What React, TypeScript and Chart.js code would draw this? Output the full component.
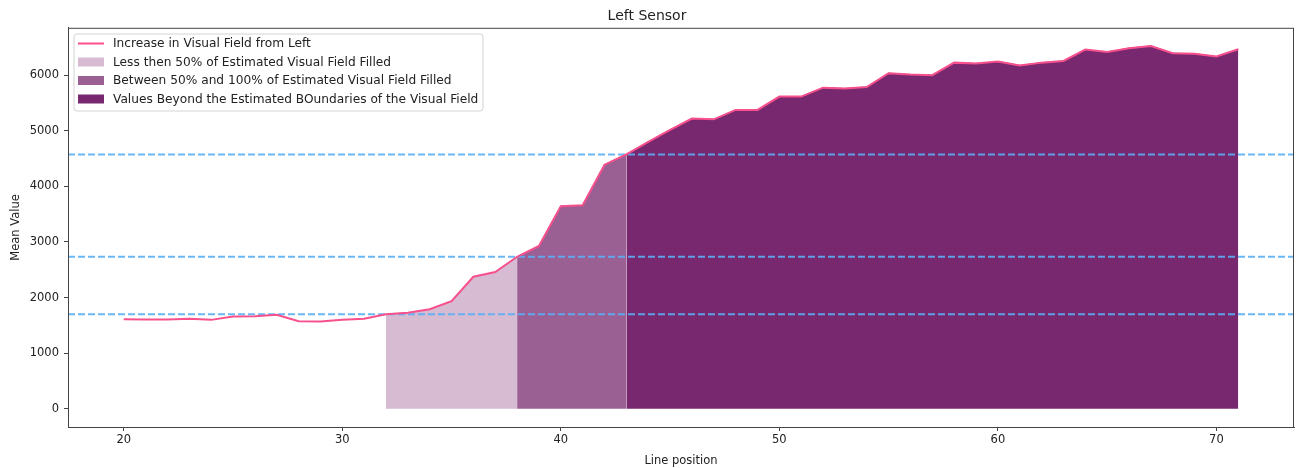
import React, { useEffect, useRef } from "react";
import Chart from "chart.js/auto";

const positions = [20, 21, 22, 23, 24, 25, 26, 27, 28, 29, 30, 31, 32, 33, 34, 35, 36, 37, 38, 39, 40, 41, 42, 43, 44, 45, 46, 47, 48, 49, 50, 51, 52, 53, 54, 55, 56, 57, 58, 59, 60, 61, 62, 63, 64, 65, 66, 67, 68, 69, 70, 71];
const meanValues = [1610, 1605, 1605, 1620, 1600, 1660, 1665, 1690, 1575, 1570, 1600, 1620, 1700, 1730, 1790, 1935, 2375, 2460, 2735, 2930, 3645, 3660, 4390, 4575, 4800, 5015, 5220, 5205, 5375, 5375, 5615, 5615, 5775, 5760, 5785, 6035, 6010, 6000, 6225, 6210, 6245, 6175, 6225, 6255, 6460, 6415, 6485, 6525, 6395, 6385, 6335, 6465];
const zoneStart = [32, 38, 43];
const zoneEnd = [38, 43, 71];
const thresholds = [1700, 2735, 4575];
const legendLabels = [
  "Increase in Visual Field from Left",
  "Less then 50% of Estimated Visual Field Filled",
  "Between 50% and 100% of Estimated Visual Field Filled",
  "Values Beyond the Estimated BOundaries of the Visual Field",
];
const xTicks = [20, 30, 40, 50, 60, 70];
const yTicks = [0, 1000, 2000, 3000, 4000, 5000, 6000];

const LINE_COLOR = "#f7508d";
const ZONE_COLORS = ["#d6bbd3", "#9a5f93", "#78286e"];
const HLINE_COLOR = "rgba(90,175,245,0.9)";
const FONT = "'DejaVu Sans', sans-serif";
const TEXT = "#222";
const SPINE = "#444";

export default function App() {
  const ref = useRef<HTMLCanvasElement | null>(null);
  useEffect(() => {
    if (!ref.current) return;
    const xmin = 20 - 0.05 * 51;
    const xmax = 71 + 0.05 * 51;
    const dmax = Math.max(...meanValues);
    const ymin = -0.05 * dmax;
    const ymax = dmax * 1.05;

    const pts = positions.map((x, i) => ({ x, y: meanValues[i] }));
    const zoneSets = zoneStart.map((s, k) => ({
      type: "line" as const,
      label: legendLabels[k + 1],
      data: pts.filter((p) => p.x >= s && p.x <= zoneEnd[k]),
      borderColor: ZONE_COLORS[k],
      backgroundColor: ZONE_COLORS[k],
      borderWidth: 1,
      pointRadius: 0,
      fill: "origin",
      tension: 0,
      order: 3,
    }));
    const hSets = thresholds.map((t) => ({
      type: "line" as const,
      label: "",
      data: [
        { x: xmin, y: t },
        { x: xmax, y: t },
      ],
      borderColor: HLINE_COLOR,
      borderWidth: 2,
      borderDash: [7, 3],
      pointRadius: 0,
      fill: false,
      order: 1,
    }));

    const frame = {
      id: "frame",
      afterDraw(chart: any) {
        const { ctx, chartArea } = chart;
        const { left, right, top, bottom } = chartArea;
        ctx.save();
        ctx.strokeStyle = SPINE;
        ctx.lineWidth = 1;
        ctx.strokeRect(left + 0.5, top + 0.5, right - left - 1, bottom - top);
        // legend
        const bx = 74, by = 34, bw = 409, bh = 77, r = 3;
        ctx.beginPath();
        ctx.moveTo(bx + r, by);
        ctx.lineTo(bx + bw - r, by);
        ctx.quadraticCurveTo(bx + bw, by, bx + bw, by + r);
        ctx.lineTo(bx + bw, by + bh - r);
        ctx.quadraticCurveTo(bx + bw, by + bh, bx + bw - r, by + bh);
        ctx.lineTo(bx + r, by + bh);
        ctx.quadraticCurveTo(bx, by + bh, bx, by + bh - r);
        ctx.lineTo(bx, by + r);
        ctx.quadraticCurveTo(bx, by, bx + r, by);
        ctx.closePath();
        ctx.fillStyle = "rgba(255,255,255,0.8)";
        ctx.fill();
        ctx.strokeStyle = "#d4d4d4";
        ctx.stroke();
        const rows = [43.5, 62, 80.5, 99];
        ctx.font = `12.2px ${FONT}`;
        ctx.textBaseline = "middle";
        ctx.textAlign = "left";
        rows.forEach((yy, i) => {
          if (i === 0) {
            ctx.strokeStyle = LINE_COLOR;
            ctx.lineWidth = 2;
            ctx.beginPath();
            ctx.moveTo(78, yy);
            ctx.lineTo(104, yy);
            ctx.stroke();
          } else {
            ctx.fillStyle = ZONE_COLORS[i - 1];
            ctx.fillRect(78, yy - 4.5, 26, 9);
          }
          ctx.fillStyle = TEXT;
          ctx.fillText(legendLabels[i], 113, yy + 0.5);
        });
        ctx.restore();
      },
    };

    const chart = new Chart(ref.current, {
      type: "line",
      data: {
        datasets: [
          {
            label: legendLabels[0],
            data: pts,
            borderColor: LINE_COLOR,
            borderWidth: 2,
            pointRadius: 0,
            fill: false,
            tension: 0,
            order: 0,
          } as any,
          ...hSets,
          ...zoneSets,
        ],
      },
      options: {
        animation: false,
        responsive: true,
        maintainAspectRatio: false,
        layout: { padding: { top: 0, right: 7, left: 0, bottom: 0 } },
        plugins: {
          legend: { display: false },
          tooltip: { enabled: false },
          title: {
            display: true,
            text: "Left Sensor",
            color: TEXT,
            font: { family: FONT, size: 14, weight: "normal" },
            padding: { top: 8, bottom: 3 },
          },
        },
        scales: {
          x: {
            type: "linear",
            min: xmin,
            max: xmax,
            afterBuildTicks: (s: any) => {
              s.ticks = xTicks.map((v) => ({ value: v }));
            },
            afterFit: (s: any) => {
              s.height = 41;
            },
            grid: { drawOnChartArea: false, tickLength: 4, color: SPINE },
            border: { color: SPINE },
            ticks: {
              color: TEXT,
              font: { family: FONT, size: 11.5 },
              padding: 2,
              maxRotation: 0,
              callback: (v: any) => String(v),
            },
            title: {
              display: true,
              text: "Line position",
              color: TEXT,
              font: { family: FONT, size: 11.5 },
              padding: { top: 2, bottom: 0 },
            },
          },
          y: {
            type: "linear",
            min: ymin,
            max: ymax,
            afterBuildTicks: (s: any) => {
              s.ticks = yTicks.map((v) => ({ value: v }));
            },
            afterFit: (s: any) => {
              s.width = 68;
            },
            grid: { drawOnChartArea: false, tickLength: 4, color: SPINE },
            border: { color: SPINE },
            ticks: {
              color: TEXT,
              font: { family: FONT, size: 11.5 },
              padding: 5,
              callback: (v: any) => String(v),
            },
            title: {
              display: true,
              text: "Mean Value",
              color: TEXT,
              font: { family: FONT, size: 11.5 },
              padding: { top: 9, bottom: 0 },
            },
          },
        },
      },
      plugins: [frame],
    } as any);
    return () => chart.destroy();
  }, []);

  return (
    <div style={{ position: "fixed", left: 0, top: 0, width: 1301, height: 468, background: "#fff" }}>
      <canvas ref={ref} />
    </div>
  );
}
